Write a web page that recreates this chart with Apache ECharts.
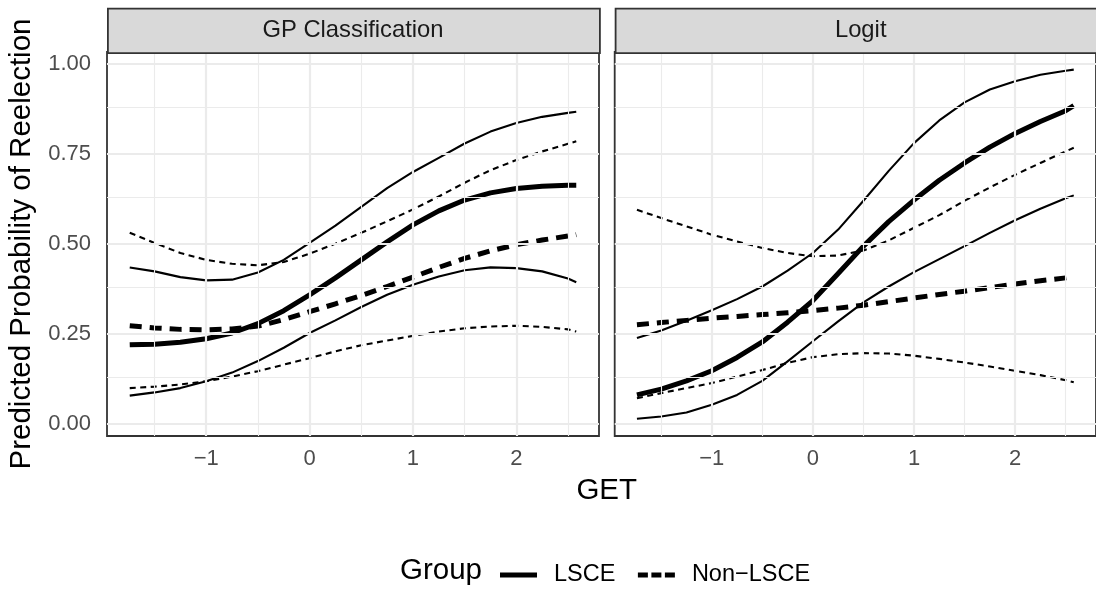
<!DOCTYPE html>
<html><head><meta charset="utf-8">
<script src="https://cdn.jsdelivr.net/npm/echarts@6/dist/echarts.min.js"></script>
<style>html,body{margin:0;padding:0;background:#fff}#c{width:1096px;height:592px}</style>
</head><body><div id="c"></div>
<script>
// ---- data ----
const xs = [-1.74,-1.5,-1.25,-1,-0.75,-0.5,-0.25,0,0.25,0.5,0.75,1,1.25,1.5,1.75,2,2.25,2.5,2.58];

// GP Classification panel
const gpLsce   = [0.220,0.222,0.227,0.237,0.253,0.279,0.315,0.359,0.406,0.456,0.506,0.553,0.592,0.622,0.642,0.654,0.660,0.663,0.663];
const gpLsceHi = [0.435,0.424,0.408,0.399,0.401,0.421,0.456,0.503,0.551,0.603,0.655,0.700,0.739,0.779,0.812,0.836,0.853,0.864,0.867];
const gpLsceLo = [0.079,0.088,0.100,0.119,0.143,0.175,0.212,0.253,0.288,0.325,0.359,0.387,0.410,0.427,0.435,0.433,0.424,0.404,0.394];
const gpNon    = [0.273,0.267,0.263,0.262,0.264,0.272,0.290,0.312,0.334,0.357,0.382,0.408,0.435,0.460,0.481,0.498,0.511,0.522,0.526];
const gpNonHi  = [0.531,0.503,0.475,0.456,0.445,0.441,0.450,0.473,0.501,0.531,0.563,0.596,0.632,0.670,0.705,0.733,0.757,0.778,0.785];
const gpNonLo  = [0.100,0.104,0.110,0.119,0.132,0.147,0.165,0.183,0.202,0.219,0.232,0.245,0.257,0.266,0.271,0.273,0.270,0.263,0.257];

// Logit panel
const lgLsce   = [0.081,0.097,0.120,0.148,0.185,0.228,0.283,0.343,0.418,0.494,0.562,0.622,0.677,0.725,0.769,0.807,0.840,0.870,0.884];
const lgLsceHi = [0.239,0.260,0.287,0.316,0.347,0.382,0.426,0.475,0.540,0.620,0.703,0.780,0.843,0.893,0.929,0.952,0.970,0.981,0.984];
const lgLsceLo = [0.015,0.021,0.032,0.054,0.081,0.120,0.174,0.230,0.285,0.338,0.382,0.422,0.458,0.494,0.531,0.566,0.598,0.627,0.635];
const lgNon    = [0.276,0.282,0.288,0.294,0.299,0.304,0.309,0.315,0.322,0.330,0.340,0.350,0.360,0.369,0.379,0.389,0.398,0.406,0.409];
const lgNonHi  = [0.595,0.572,0.549,0.526,0.507,0.489,0.475,0.466,0.468,0.482,0.510,0.545,0.580,0.620,0.657,0.692,0.725,0.757,0.767];
const lgNonLo  = [0.072,0.086,0.100,0.114,0.132,0.150,0.170,0.186,0.194,0.197,0.196,0.190,0.181,0.171,0.160,0.148,0.136,0.122,0.116];

const panels = ['GP Classification', 'Logit'];
const groups = ['LSCE', 'Non\u2212LSCE'];
const xTicks = [-1, 0, 1, 2];
const xMinor = [-1.5, -0.5, 0.5, 1.5, 2.5];
const yTicks = [0, 0.25, 0.5, 0.75, 1];
const yMinor = [0.125, 0.375, 0.625, 0.875];
const xTitle = 'GET';
const yTitle = 'Predicted Probability of Reelection';
const legendTitle = 'Group';

const panelData = [
  {lsce: gpLsce, lsceHi: gpLsceHi, lsceLo: gpLsceLo, non: gpNon, nonHi: gpNonHi, nonLo: gpNonLo},
  {lsce: lgLsce, lsceHi: lgLsceHi, lsceLo: lgLsceLo, non: lgNon, nonHi: lgNonHi, nonLo: lgNonLo}
];

// ---- layout / style ----
const FONT = '"Liberation Sans", Arial, Helvetica, sans-serif';
const PANEL_LEFT = [107, 614.7];
const PANEL_W = 492, PANEL_TOP = 52, PANEL_H = 384;
const X_MIN = -1.96, X_MAX = 2.8, Y_MIN = -0.033, Y_MAX = 1.033;
const THICK = 5, THIN = 2.1;
const DASH_THICK = [12, 8], DASH_THIN = [6, 4.5];

const pts = arr => xs.map((x, i) => [x, arr[i]]);
const minus = v => String(v).replace('-', '\u2212');

const grids = [], xAxes = [], yAxes = [], series = [], graphics = [];

panels.forEach((title, p) => {
  grids.push({left: PANEL_LEFT[p], top: PANEL_TOP, width: PANEL_W, height: PANEL_H,
    show: true, borderColor: '#333333', borderWidth: 1.8, backgroundColor: '#ffffff', containLabel: false});
  xAxes.push({type: 'value', gridIndex: p, min: X_MIN, max: X_MAX,
    axisLine: {show: false}, splitLine: {show: false},
    axisTick: {show: true, length: 7, lineStyle: {color: '#333333', width: 1.8}, customValues: xTicks},
    axisLabel: {show: true, customValues: xTicks, margin: 12, fontSize: 22, color: '#4D4D4D', fontFamily: FONT,
      formatter: v => minus(v)}});
  yAxes.push({type: 'value', gridIndex: p, min: Y_MIN, max: Y_MAX,
    axisLine: {show: false}, splitLine: {show: false},
    axisTick: {show: p === 0, length: 7, lineStyle: {color: '#333333', width: 1.8}, customValues: yTicks},
    axisLabel: {show: p === 0, customValues: yTicks, margin: 16, fontSize: 22, color: '#4D4D4D', fontFamily: FONT,
      formatter: v => v.toFixed(2)},
    name: p === 0 ? yTitle : '', nameLocation: 'middle', nameGap: 70,
    nameTextStyle: {fontSize: 29.5, color: '#000', fontFamily: FONT}});

  // grid lines (major + minor) drawn on the axes' scales
  const gl = [];
  xMinor.forEach(v => gl.push({xAxis: v, lineStyle: {color: '#EBEBEB', width: 1.1, type: 'solid'}}));
  yMinor.forEach(v => gl.push({yAxis: v, lineStyle: {color: '#EBEBEB', width: 1.1, type: 'solid'}}));
  xTicks.forEach(v => gl.push({xAxis: v, lineStyle: {color: '#EBEBEB', width: 2.2, type: 'solid'}}));
  yTicks.forEach(v => gl.push({yAxis: v, lineStyle: {color: '#EBEBEB', width: 2.2, type: 'solid'}}));
  series.push({type: 'line', xAxisIndex: p, yAxisIndex: p, data: [], silent: true, z: 1,
    markLine: {silent: true, symbol: ['none', 'none'], label: {show: false}, animation: false, data: gl}});

  const d = panelData[p];
  const mk = (name, arr, width, dash) => ({
    type: 'line', name: name, xAxisIndex: p, yAxisIndex: p, data: pts(arr), z: 3,
    symbol: 'none', smooth: false, silent: true, color: '#000000',
    itemStyle: {color: '#000000'},
    lineStyle: {color: '#000000', width: width, type: dash || 'solid', cap: 'butt', join: 'round'}
  });
  series.push(mk(groups[0], d.lsce, THICK));
  series.push(mk(groups[1], d.non, THICK, DASH_THICK));
  series.push(mk('LSCE upper', d.lsceHi, THIN));
  series.push(mk('LSCE lower', d.lsceLo, THIN));
  series.push(mk('Non upper', d.nonHi, THIN, DASH_THIN));
  series.push(mk('Non lower', d.nonLo, THIN, DASH_THIN));

  // facet strip
  graphics.push({type: 'rect', left: PANEL_LEFT[p], top: 7.7,
    shape: {x: 0, y: 0, width: PANEL_W, height: 44.6},
    style: {fill: '#D9D9D9', stroke: '#333333', lineWidth: 1.8}, z: 10});
  graphics.push({type: 'text', x: PANEL_LEFT[p] + PANEL_W / 2, y: 30.5,
    style: {text: title, fill: '#1A1A1A', font: '23.8px ' + FONT, textAlign: 'center', textVerticalAlign: 'middle'}, z: 11});
});

graphics.push({type: 'text', x: 606.7, y: 491,
  style: {text: xTitle, fill: '#000', font: '29.5px ' + FONT, textAlign: 'center', textVerticalAlign: 'middle'}});
graphics.push({type: 'text', x: 400, y: 571,
  style: {text: legendTitle, fill: '#000', font: '29.5px ' + FONT, textAlign: 'left', textVerticalAlign: 'middle'}});

const chart = echarts.init(document.getElementById('c'), null, {renderer: 'canvas'});
chart.setOption({
  animation: false,
  backgroundColor: '#ffffff',
  textStyle: {fontFamily: FONT},
  grid: grids, xAxis: xAxes, yAxis: yAxes, series: series,
  legend: {
    data: [
      {name: groups[0], icon: 'path://M0,0H37V5H0Z'},
      {name: groups[1], icon: 'path://M0,0H10V5H0Z M13.5,0H23.5V5H13.5Z M27,0H37V5H27Z'}
    ],
    left: 495, top: 558, orient: 'horizontal', itemWidth: 37, itemHeight: 5, itemGap: 22.5,
    selectedMode: false, itemStyle: {color: '#000000', borderWidth: 0},
    textStyle: {fontSize: 23.5, color: '#000', fontFamily: FONT, padding: [0, 0, 0, 12]}},
  graphic: graphics
});
</script></body></html>
